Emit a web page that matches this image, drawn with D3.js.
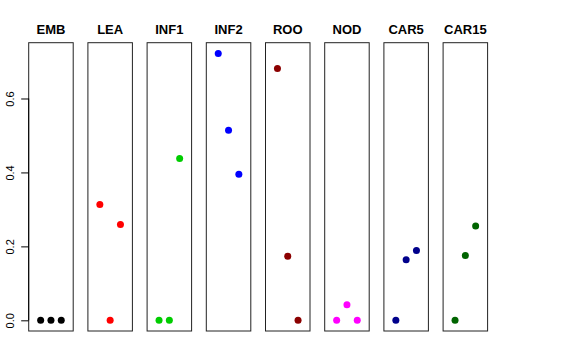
<!DOCTYPE html>
<html>
<head>
<meta charset="utf-8">
<script src="https://cdn.jsdelivr.net/npm/d3@7"></script>
<style>
  body { margin: 0; background: #fff; }
  text { font-family: "Liberation Sans", Arial, sans-serif; }
</style>
</head>
<body>
<svg id="chart" width="576" height="360"></svg>
<script>
// tissues, one panel each
var tissues = ['EMB', 'LEA', 'INF1', 'INF2', 'ROO', 'NOD', 'CAR5', 'CAR15'];
var colors = ['#000000', '#FF0000', '#00CD00', '#0000FF', '#8B0000', '#FF00FF', '#00008B', '#006400'];
// three values per tissue (positions 1,2,3)
var vals = [
    [0, 0, 0],
    [0.313, 0, 0.259],
    [0, 0, 0.438],
    [0.722, 0.514, 0.395],
    [0.681, 0.173, 0],
    [0, 0.042, 0],
    [0, 0.164, 0.189],
    [0, 0.175, 0.255]
];
var yTicks = [0, 0.2, 0.4, 0.6];
var positions = [1, 2, 3];

var svg = d3.select('#chart');

var panelW = 44.5, step = 59.2, left0 = 28.7;
var plotTop = 42.7, plotBottom = 331;

var allVals = d3.merge(vals);
var ymax = d3.max(allVals), ymin = d3.min(allVals);
var pad = (ymax - ymin) * 0.04;
var y = d3.scaleLinear().domain([ymin - pad, ymax + pad]).range([plotBottom, plotTop]);

// x within a panel: xlim 0..4 with 4% expansion
var x = d3.scaleLinear().domain([-0.16, 4.16]).range([0, panelW]);

tissues.forEach(function(t, i){
    var g = svg.append('g').attr('transform', 'translate(' + (left0 + i * step) + ',0)');
    g.append('rect')
        .attr('x', 0).attr('y', plotTop)
        .attr('width', panelW).attr('height', plotBottom - plotTop)
        .attr('fill', 'none').attr('stroke', '#222').attr('stroke-width', 1);
    g.append('text')
        .attr('x', panelW / 2).attr('y', 33.5)
        .attr('text-anchor', 'middle')
        .style('font-weight', 'bold').style('font-size', '13px')
        .text(t);
    g.selectAll('circle')
        .data(vals[i])
        .enter()
        .append('circle')
        .attr('cx', function(d, j){ return x(positions[j]); })
        .attr('cy', function(d){ return y(d); })
        .attr('r', 3.5)
        .attr('fill', colors[i]);
});

// y axis on the first panel
var axis = d3.axisLeft(y)
    .tickValues(yTicks)
    .tickFormat(d3.format('.1f'))
    .tickSize(7.5)
    .tickPadding(4);

var ax = svg.append('g')
    .attr('transform', 'translate(' + left0 + ',0)')
    .call(axis);
ax.select('.domain').attr('d', 'M0,' + y(0) + 'V' + y(0.6)).attr('stroke', '#000');
ax.selectAll('.tick line').attr('stroke', '#000');
ax.selectAll('.tick text')
    .attr('x', 0).attr('dy', null)
    .attr('transform', 'translate(-15,0) rotate(-90)')
    .attr('text-anchor', 'middle')
    .attr('fill', '#000')
    .style('font-size', '11px')
    .style('font-family', '"Liberation Sans", Arial, sans-serif');
</script>
</body>
</html>
